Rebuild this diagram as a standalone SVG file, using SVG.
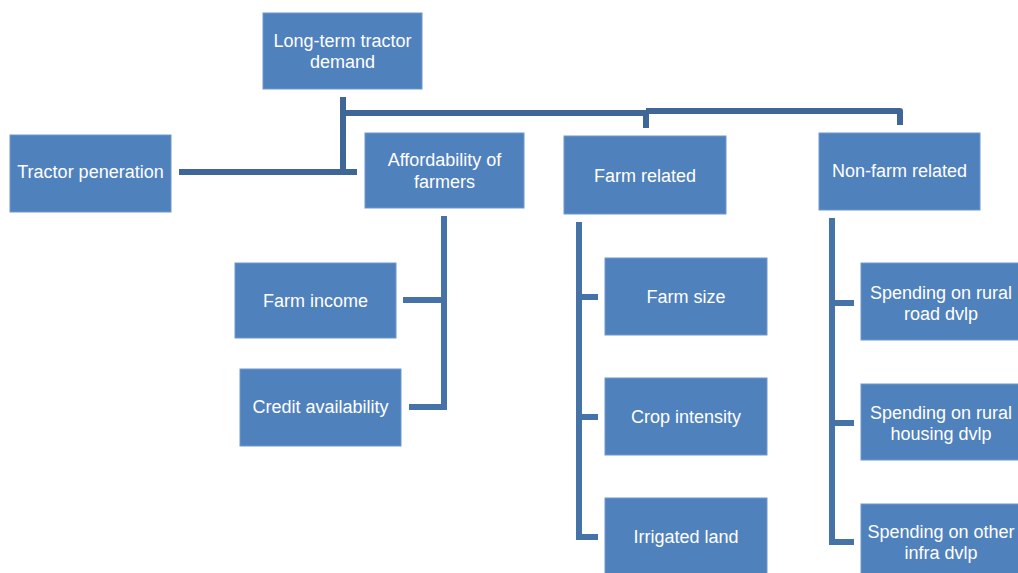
<svg xmlns="http://www.w3.org/2000/svg" width="1018" height="573" viewBox="0 0 1018 573">
<style>
.box{fill:#4F81BD;stroke:#6E98CB;stroke-width:1}
.t{fill:#FFFFFF;font-family:"Liberation Sans",Arial,sans-serif;font-size:18px;text-anchor:middle}
.c{fill:none;stroke:#4572A7;stroke-width:6;stroke-linejoin:miter}
.cd{fill:none;stroke:#3E6797;stroke-width:6;stroke-linejoin:round}
</style>
<rect width="1018" height="573" fill="#FFFFFF"/>
<g id="connectors">
<path class="cd" d="M343,97 V173 M343,113 H646 V128 M646,111 H900 V125"/>
<path class="cd" d="M179,172 H357"/>
<path class="c" d="M444,216 V407 H409 M444,300 H403"/>
<path class="c" d="M579,222 V537 H598 M579,297 H598 M579,417 H598"/>
<path class="c" d="M832,218 V542 H854 M832,303 H854 M832,423 H854"/>
</g>
<g id="n-root"><rect class="box" x="263" y="13" width="159" height="76"/><text class="t" x="342.5" y="47">Long-term tractor</text><text class="t" x="342.5" y="68">demand</text></g>
<g id="n-tractor"><rect class="box" x="10" y="135" width="161" height="77"/><text class="t" x="90.5" y="178">Tractor peneration</text></g>
<g id="n-afford"><rect class="box" x="365" y="133" width="159" height="75"/><text class="t" x="444.5" y="166">Affordability of</text><text class="t" x="444.5" y="188">farmers</text></g>
<g id="n-farm"><rect class="box" x="564" y="136" width="162" height="78"/><text class="t" x="645" y="182">Farm related</text></g>
<g id="n-nonfarm"><rect class="box" x="819" y="133" width="161" height="77"/><text class="t" x="899.5" y="177">Non-farm related</text></g>
<g id="n-income"><rect class="box" x="235" y="263" width="161" height="75"/><text class="t" x="315.5" y="307">Farm income</text></g>
<g id="n-credit"><rect class="box" x="240" y="369" width="161" height="77"/><text class="t" x="320.5" y="413">Credit availability</text></g>
<g id="n-size"><rect class="box" x="605" y="258" width="162" height="77"/><text class="t" x="686" y="303">Farm size</text></g>
<g id="n-crop"><rect class="box" x="605" y="378" width="162" height="77"/><text class="t" x="686" y="423">Crop intensity</text></g>
<g id="n-irr"><rect class="box" x="605" y="498" width="162" height="80"/><text class="t" x="686" y="543">Irrigated land</text></g>
<g id="n-road"><rect class="box" x="861" y="263" width="162" height="77"/><text class="t" x="941" y="299">Spending on rural</text><text class="t" x="941" y="320">road dvlp</text></g>
<g id="n-housing"><rect class="box" x="861" y="384" width="162" height="76"/><text class="t" x="941" y="419">Spending on rural</text><text class="t" x="941" y="440">housing dvlp</text></g>
<g id="n-infra"><rect class="box" x="861" y="504" width="162" height="74"/><text class="t" x="941" y="538">Spending on other</text><text class="t" x="941" y="559">infra dvlp</text></g>
</svg>
